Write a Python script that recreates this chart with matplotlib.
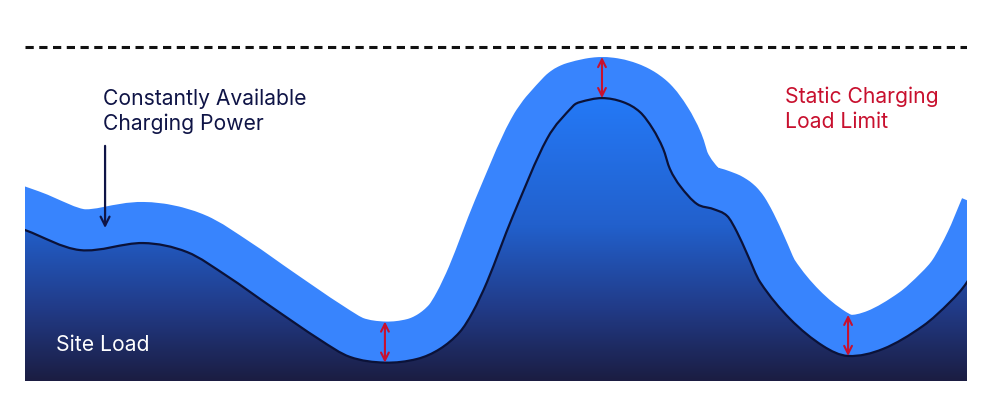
import matplotlib
matplotlib.use("Agg")
import matplotlib.pyplot as plt
import numpy as np
from matplotlib.path import Path
from matplotlib.patches import PathPatch
from matplotlib.colors import LinearSegmentedColormap

# time of day (hours) and site load (% of static limit)
hours = [-0.51, 0.0, 1.40, 3.01, 4.13, 5.15, 6.24, 7.52, 8.28, 9.17, 9.99,
         10.57, 11.08, 11.41, 11.77, 12.10, 12.43, 13.30, 13.96, 14.14,
         14.70, 15.24, 15.67, 16.00, 16.26, 16.43, 16.69, 17.12, 17.53, 17.89,
         18.14, 18.40, 18.73, 19.49, 20.33, 20.97, 21.86, 22.88, 23.57, 24.0,
         24.46, 24.84]
site_load = [47.3, 45.2, 39.2, 41.3, 38.6, 31.4, 22.5, 12.3, 7.2, 5.5, 6.6,
             9.6, 14.7, 20.7, 29.6, 39.5, 49.4, 72.5, 82.3, 83.5,
             84.7, 83.5, 80.5, 75.4, 69.5, 63.5, 58.4, 53.0, 51.5, 49.4,
             44.6, 38.0, 29.6, 18.6, 10.5, 7.5, 9.6, 16.5, 23.7, 29.6,
             39.5, 50.0]
static_limit = 100
reserve = 12.3                   # constantly available charging power
arrow_hours = [9.17, 14.70, 20.97]  # where the red arrows are drawn

band_color = "#3884fd"
navy = "#0f1446"
red = "#c8102e"

plt.rcParams["font.family"] = ["Inter", "DejaVu Sans"]

fig = plt.figure(figsize=(9.92, 4.14), dpi=100)
ax = fig.add_axes([25 / 992, 32 / 414, 942 / 992, 382 / 414])
ymax = 382 / 334 * 100
ax.axis("off")


def smooth_path(xs, ys):
    # hermite segments between the read points, handed to matplotlib as beziers
    xs = np.asarray(xs, float)
    ys = np.asarray(ys, float)
    n = len(xs)
    m = np.empty(n)
    m[0] = (ys[1] - ys[0]) / (xs[1] - xs[0])
    m[-1] = (ys[-1] - ys[-2]) / (xs[-1] - xs[-2])
    for i in range(1, n - 1):
        m[i] = (ys[i + 1] - ys[i - 1]) / (xs[i + 1] - xs[i - 1])
    verts = [(xs[0], ys[0])]
    codes = [Path.MOVETO]
    for i in range(n - 1):
        d = (xs[i + 1] - xs[i]) / 3
        verts += [(xs[i] + d, ys[i] + m[i] * d),
                  (xs[i + 1] - d, ys[i + 1] - m[i + 1] * d),
                  (xs[i + 1], ys[i + 1])]
        codes += [Path.CURVE4] * 3
    return verts, codes


verts, codes = smooth_path(hours, site_load)
curve = Path(verts, codes)

# band of available charging power: a thick stroke along the load curve
band_lw = 2 * reserve / ymax * 382 * 72 / 100
ax.add_patch(PathPatch(curve, fill=False, lw=band_lw, edgecolor=band_color,
                       capstyle="butt", joinstyle="round", zorder=1))

# site load area with vertical gradient
fill_verts = verts + [(hours[-1], -5), (hours[0], -5), (hours[0], site_load[0])]
fill_codes = codes + [Path.LINETO, Path.LINETO, Path.CLOSEPOLY]
fill_patch = PathPatch(Path(fill_verts, fill_codes), facecolor="none",
                       edgecolor="none")
ax.add_patch(fill_patch)

cmap = LinearSegmentedColormap.from_list(
    "site", [(0, "#1b1d42"), (0.25, "#213a86"), (0.55, "#2260cc"),
             (1, "#2479f7")])
grad = np.linspace(0, 1, 256).reshape(-1, 1)
img = ax.imshow(grad, cmap=cmap, origin="lower", aspect="auto",
                extent=[-1, 25, 0, max(site_load)], zorder=2)
img.set_clip_path(fill_patch)

ax.add_patch(PathPatch(curve, fill=False, lw=1.6, edgecolor="#0b1238", zorder=3))

ax.set_xlim(0, 24)
ax.set_ylim(0, ymax)

# static charging load limit
ax.axhline(static_limit, color="#111111", lw=2.2, linestyle=(0, (2.7, 1.8)),
           zorder=4)

# red double arrows showing constant reserve
for h in arrow_hours:
    v = site_load[hours.index(h)]
    ax.annotate("", xy=(h, v), xytext=(h, v + reserve),
                arrowprops=dict(arrowstyle="<->", color=red, lw=1.5,
                                mutation_scale=14, shrinkA=0, shrinkB=0),
                zorder=5)

# labels
fs = 15.2
ax.text(1.99, 82.9, "Constantly Available", color=navy, fontsize=fs,
        va="baseline")
ax.text(1.99, 75.4, "Charging Power", color=navy, fontsize=fs,
        va="baseline")
ax.annotate("", xy=(2.04, 45.8), xytext=(2.04, 70.4),
            arrowprops=dict(arrowstyle="->", color=navy, lw=1.6,
                            mutation_scale=16, shrinkA=0, shrinkB=0))

ax.text(19.36, 83.5, "Static Charging", color=red, fontsize=fs,
        va="baseline")
ax.text(19.36, 76.0, "Load Limit", color=red, fontsize=fs, va="baseline")

ax.text(0.79, 9.3, "Site Load", color="white", fontsize=fs, va="baseline",
        zorder=6)

fig.savefig("out.png", dpi=100, facecolor="white")
